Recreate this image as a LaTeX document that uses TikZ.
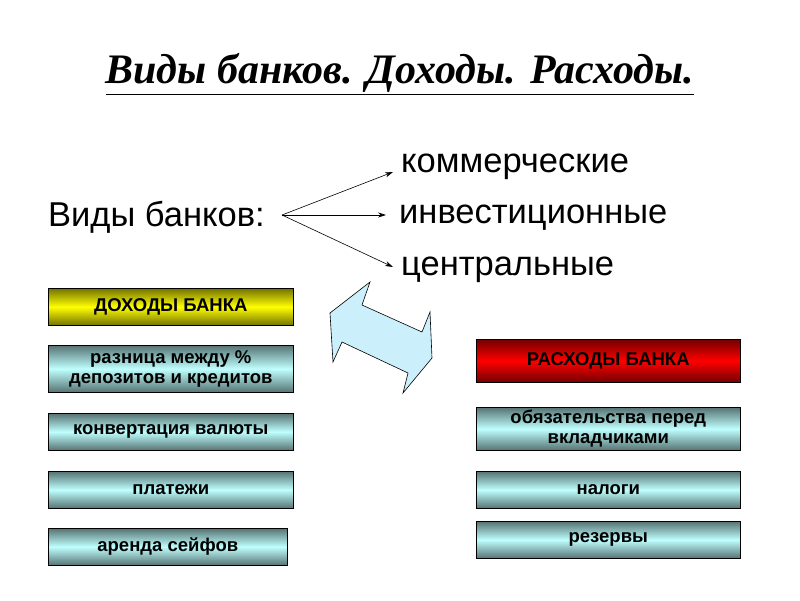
\documentclass[tikz,border=0pt]{standalone}
\usepackage{fontspec}
\setmainfont{Liberation Sans}
\newfontfamily\titlefont{Liberation Serif}
\usetikzlibrary{arrows.meta}
\begin{document}
\begin{tikzpicture}[x=1pt,y=-1pt,
  gbox/.style={draw=black,line width=0.6pt,top color=#1!45!black,bottom color=#1!45!black,middle color=#1,
    font=\bfseries\fontsize{18.5}{19.5}\selectfont,align=center,inner sep=0pt,anchor=north west},
  lbl/.style={font=\fontsize{34.5}{36}\selectfont,anchor=west,inner sep=0pt},
  arr/.style={-{Stealth[length=8pt,width=5pt]},line width=0.6pt}]
\useasboundingbox (0,0) rectangle (800,600);
\node[font=\titlefont\bfseries\itshape\fontsize{42}{44}\selectfont,inner sep=0pt] (title) at (400,74) {\underline{Виды банков. Доходы. Расходы.}};
\node[lbl] (vidy) at (48,217) {Виды банков:};
\coordinate (src) at (282,215);
\node[lbl] (kom) at (401,167) {коммерческие};
\node[lbl] (inv) at (399,218) {инвестиционные};
\node[lbl] (cen) at (401,270) {центральные};
\coordinate (k1) at (393,172);
\coordinate (i1) at (386,215);
\coordinate (c1) at (393,267);
\draw[arr] (src) -- (k1);
\draw[arr] (src) -- (i1);
\draw[arr] (src) -- (c1);
\node[gbox=yellow,minimum width=245pt,minimum height=37pt] (doh) at (48,288) {ДОХОДЫ БАНКА};
\node[gbox=cyan!25!white,minimum width=245pt,minimum height=47pt] (r1) at (48,345) {разница между \%\\депозитов и кредитов};
\node[gbox=cyan!25!white,minimum width=245pt,minimum height=37pt] (r2) at (48,413) {конвертация валюты};
\node[gbox=cyan!25!white,minimum width=245pt,minimum height=37pt] (r3) at (48,471) {платежи};
\node[gbox=cyan!25!white,minimum width=239pt,minimum height=37pt] (r4) at (48,528) {аренда сейфов};
\node[gbox=red,minimum width=264pt,minimum height=43pt] (ras) at (476,339) {РАСХОДЫ БАНКА};
\node[gbox=cyan!25!white,minimum width=264pt,minimum height=43pt] (e1) at (476,407) {обязательства перед\\вкладчиками};
\node[gbox=cyan!25!white,minimum width=264pt,minimum height=37pt] (e2) at (476,471) {налоги};
\node[gbox=cyan!25!white,minimum width=264pt,minimum height=37pt] (e3) at (476,521) {резервы};
\draw[fill=cyan!20!white,line width=0.6pt] (370,282) -- (362,305) -- (422,332) -- (430,312) -- (432,358) -- (403,393) -- (408,373) -- (342,342) -- (333,362) -- (330,313) -- cycle;
\end{tikzpicture}
\end{document}
